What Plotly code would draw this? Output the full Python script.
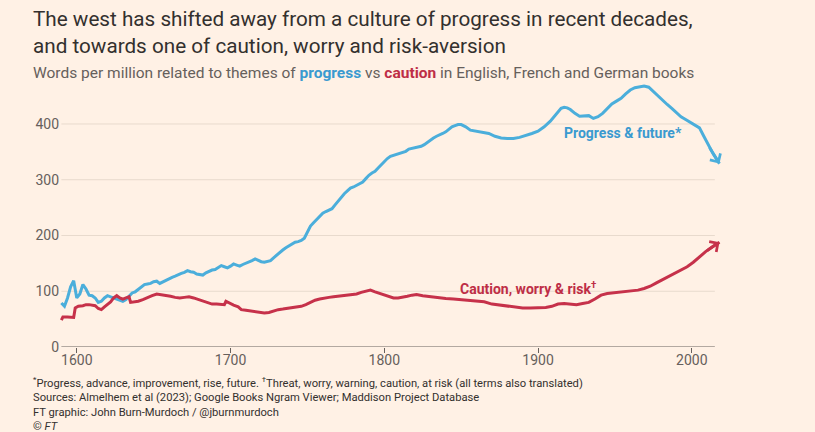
import plotly.graph_objects as go

# --- data ---
progress_years = [
    1590, 1592, 1594, 1596, 1598, 1600, 1602, 1604, 1606, 1608, 1610, 1612, 1614, 1616,
    1618, 1620, 1622, 1624, 1626, 1628, 1630, 1632, 1634, 1636, 1638, 1640, 1642, 1644,
    1646, 1648, 1650, 1652, 1654, 1656, 1658, 1660, 1662, 1664, 1666, 1668, 1670, 1672,
    1674, 1676, 1678, 1680, 1682, 1684, 1686, 1688, 1690, 1692, 1694, 1696, 1698, 1700,
    1702, 1704, 1706, 1708, 1710, 1712, 1714, 1716, 1718, 1720, 1722, 1724, 1726, 1728,
    1730, 1732, 1734, 1736, 1738, 1740, 1742, 1744, 1746, 1748, 1750, 1752, 1754, 1756,
    1758, 1760, 1762, 1764, 1766, 1768, 1770, 1772, 1774, 1776, 1778, 1780, 1782, 1784,
    1786, 1788, 1790, 1792, 1794, 1796, 1798, 1800, 1802, 1804, 1806, 1808, 1810, 1812,
    1814, 1816, 1818, 1820, 1822, 1824, 1826, 1828, 1830, 1832, 1834, 1836, 1838, 1840,
    1842, 1844, 1846, 1848, 1850, 1853, 1856, 1860, 1864, 1868, 1872, 1876, 1880, 1884,
    1888, 1892, 1896, 1900, 1904, 1908, 1912, 1915, 1917, 1919, 1921, 1924, 1927, 1930,
    1933, 1936, 1939, 1942, 1945, 1948, 1951, 1954, 1957, 1960, 1963, 1966, 1969, 1972,
    1975, 1978, 1981, 1984, 1987, 1990, 1993, 1996, 1999, 2002, 2005, 2008, 2011, 2014,
    2018,
]
progress_values = [
    79, 73, 88, 108, 119, 88, 95, 112, 104, 93, 92, 88, 80, 82,
    88, 92, 90, 88, 86, 84, 82, 85, 92, 97, 99, 103, 107, 112,
    113, 114, 117, 118, 114, 117, 120, 122, 125, 127, 130, 132, 134, 137,
    135, 134, 131, 130, 129, 133, 136, 138, 139, 142, 146, 144, 142, 145,
    149, 147, 145, 148, 150, 152, 155, 158, 155, 153, 152, 154, 155, 160,
    165, 169, 174, 178, 181, 185, 188, 189, 191, 195, 205, 217, 223, 229,
    235, 240, 243, 245, 248, 255, 262, 268, 275, 280, 285, 287, 290, 292,
    296, 302, 308, 312, 315, 321, 327, 333, 338, 342, 344, 345, 347, 349,
    351, 355, 356, 357, 359, 360, 363, 367, 372, 375, 378, 380, 383, 386,
    391, 395, 397, 399, 399, 395, 389, 387, 386, 383, 378, 375, 374, 374,
    376, 379, 383, 387, 395, 405, 418, 428, 430, 429, 426, 419, 414, 415,
    415, 410, 413, 419, 428, 436, 441, 446, 454, 461, 465, 467, 468, 466,
    458, 450, 442, 435, 428, 420, 413, 408, 403, 399, 393, 377, 360, 346,
    329,
]

caution_years = [
    1590, 1591, 1594, 1597, 1598, 1599, 1601, 1604, 1606, 1608, 1610, 1612, 1614, 1616,
    1618, 1620, 1622, 1624, 1626, 1628, 1630, 1632, 1634, 1635, 1638, 1640, 1643, 1646,
    1649, 1652, 1655, 1658, 1661, 1664, 1667, 1670, 1673, 1676, 1679, 1682, 1685, 1688,
    1691, 1694, 1696, 1697, 1699, 1702, 1705, 1707, 1710, 1713, 1716, 1719, 1722, 1725,
    1728, 1731, 1734, 1737, 1740, 1743, 1746, 1749, 1752, 1755, 1758, 1761, 1764, 1767,
    1770, 1773, 1776, 1779, 1782, 1785, 1788, 1791, 1794, 1797, 1800, 1803, 1806, 1809,
    1812, 1815, 1818, 1821, 1825, 1830, 1835, 1840, 1845, 1850, 1855, 1860, 1865, 1870,
    1875, 1880, 1885, 1890, 1895, 1900, 1905, 1909, 1913, 1917, 1921, 1925, 1929, 1933,
    1937, 1941, 1945, 1949, 1953, 1957, 1961, 1965, 1969, 1973, 1977, 1981, 1985, 1989,
    1993, 1997, 2001, 2005, 2009, 2013, 2018,
]
caution_values = [
    48, 54, 54, 53, 53, 70, 73, 74, 76, 76, 75, 74, 69, 67,
    72, 77, 81, 88, 92, 88, 86, 88, 90, 80, 81, 82, 85, 89,
    92, 95, 94, 92, 91, 89, 88, 89, 90, 88, 85, 82, 79, 77,
    77, 76, 76, 82, 79, 75, 72, 67, 66, 65, 64, 62, 61, 62,
    65, 67, 68, 69, 70, 71, 73, 76, 80, 84, 86, 88, 89, 90,
    91, 92, 93, 94, 95, 98, 100, 102, 99, 96, 93, 90, 88, 88,
    89, 91, 93, 94, 92, 90, 89, 87, 86, 85, 84, 83, 81, 77,
    75, 73, 71, 70, 70, 70, 71, 73, 77, 78, 77, 76, 78, 80,
    86, 93, 96, 97, 98, 99, 100, 102, 105, 109, 115, 121, 127, 133,
    138, 144, 152, 162, 171, 179, 188,
]

x_ticks = [1600, 1700, 1800, 1900, 2000]
y_ticks = [0, 100, 200, 300, 400]
axis_span = [1590, 2015]

BLUE = "#4BAEDB"
BLUE_TEXT = "#3A9AD0"
RED = "#C6314A"
RED_TEXT = "#BE2E46"
BG = "#FFF1E5"
INK = "#33302E"
GREY = "#66605C"
FONT = "Roboto, sans-serif"

fig = go.Figure()

for xs, ys, color in [(progress_years, progress_values, BLUE),
                      (caution_years, caution_values, RED)]:
    fig.add_trace(go.Scatter(
        x=xs, y=ys, mode="lines",
        line=dict(color=color, width=3),
        hoverinfo="skip", showlegend=False,
    ))
    # chevron arrowhead at the end of each line
    fig.add_annotation(
        x=xs[-1], y=ys[-1], ax=xs[-3], ay=ys[-3],
        xref="x", yref="y", axref="x", ayref="y",
        text="", showarrow=True, arrowhead=4, arrowsize=0.8,
        arrowwidth=3, arrowcolor=color, standoff=0,
    )

# gridlines and baseline stop at the end of the axis, as in the original
for v in y_ticks:
    fig.add_shape(
        type="line", xref="x", yref="y",
        x0=axis_span[0], x1=axis_span[1], y0=v, y1=v,
        line=dict(color=GREY if v == 0 else "#E8DACD", width=1),
        layer="below",
    )

fig.add_annotation(
    x=1955.5, y=384, xref="x", yref="y", text="<b>Progress &amp; future*</b>",
    showarrow=False, font=dict(family=FONT, size=14, color=BLUE_TEXT),
)
fig.add_annotation(
    x=1893.5, y=106, xref="x", yref="y",
    text="<b>Caution, worry &amp; risk<sup>\u2020</sup></b>",
    showarrow=False, font=dict(family=FONT, size=14, color=RED_TEXT),
)

# title and subtitle
fig.add_annotation(
    x=-0.044, y=1.281, xref="paper", yref="paper", xanchor="left", yanchor="top",
    align="left", showarrow=False,
    text=("The west has shifted away from a culture of progress in recent decades,<br>"
          "and towards one of caution, worry and risk-aversion"),
    font=dict(family=FONT, size=20.7, color=INK),
)
fig.add_annotation(
    x=-0.044, y=1.026, xref="paper", yref="paper", xanchor="left", yanchor="middle",
    text=("Words per million related to themes of "
          f"<b><span style='color:{BLUE_TEXT}'>progress</span></b> vs "
          f"<b><span style='color:{RED_TEXT}'>caution</span></b> "
          "in English, French and German books"),
    showarrow=False, font=dict(family=FONT, size=15.5, color=GREY),
)

fig.add_annotation(
    x=-0.044, y=-0.098, xref="paper", yref="paper", xanchor="left", yanchor="top",
    align="left", showarrow=False,
    text=("<sup>*</sup>Progress, advance, improvement, rise, future. <sup>\u2020</sup>Threat, "
          "worry, warning, caution, at risk (all terms also translated)<br>"
          "Sources: Almelhem et al (2023); Google Books Ngram Viewer; Maddison Project Database<br>"
          "FT graphic: John Burn-Murdoch / @jburnmurdoch<br>"
          "\u00a9 <i>FT</i>"),
    font=dict(family=FONT, size=11.2, color=INK),
)

fig.update_layout(
    width=815, height=432,
    margin=dict(l=60, r=94, t=80, b=85),
    paper_bgcolor=BG, plot_bgcolor=BG,
    font=dict(family=FONT, color=GREY),
    xaxis=dict(
        range=[1589.1, 2019.0], tickvals=x_ticks, showgrid=False, zeroline=False,
        showline=False, ticks="outside", ticklen=5, tickcolor=GREY,
        ticklabelstandoff=-5,
        tickfont=dict(family=FONT, size=14, color=GREY),
    ),
    yaxis=dict(
        range=[0, 478.9], tickvals=y_ticks, showgrid=False, zeroline=False,
        showline=False, tickfont=dict(family=FONT, size=14, color=GREY),
    ),
)

# the page's default body margin would push the chart off the window
fig.write_html(
    "out.html",
    config={"displayModeBar": False},
    post_script="document.body.style.margin='0';document.body.style.overflow='hidden';",
)
